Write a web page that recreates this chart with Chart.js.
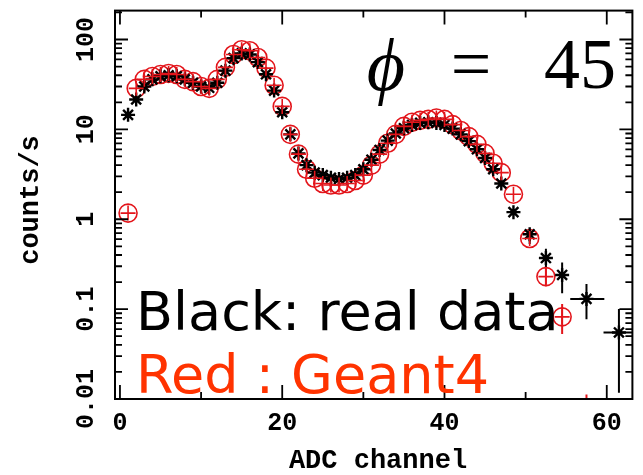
<!DOCTYPE html>
<html>
<head>
<meta charset="utf-8">
<script src="https://cdn.jsdelivr.net/npm/chart.js@4.4.1/dist/chart.umd.min.js"></script>
<style>
  html, body { margin: 0; padding: 0; background: #fff; }
</style>
</head>
<body>
<canvas id="spec" width="643" height="475"></canvas>
<script>
// ADC channel of each point (last ones are wider bins)
const channels = [1, 2, 3, 4, 5, 6, 7, 8, 9, 10, 11, 12, 13, 14, 15, 16, 17, 18, 19, 20,
  21, 22, 23, 24, 25, 26, 27, 28, 29, 30, 31, 32, 33, 34, 35, 36, 37, 38, 39, 40,
  41, 42, 43, 44, 45, 46, 47, 48.5, 50.5, 52.5, 54.5, 57.5, 61.5];

// counts/s, black = real data
const realRate = [14.5, 21.5, 30, 36, 39, 40, 39, 36, 33, 30, 29, 33, 45, 62, 70, 68, 56, 41, 27, 15.5,
  8.8, 5.4, 4.0, 3.3, 3.1, 2.9, 2.8, 2.9, 3.1, 3.6, 4.6, 5.9, 7.5, 9.0, 10.3, 11.2, 11.8, 12.0, 11.8, 11.2,
  10.2, 8.8, 7.4, 6.0, 4.8, 3.6, 2.5, 1.2, 0.68, 0.37, 0.24, 0.13, 0.055];

// counts/s, red = Geant4
const geantRate = [1.17, 28.6, 36, 38.8, 40.8, 41.9, 40.8, 36, 34, 30, 28.6, 36, 49, 68, 77, 75, 63, 48, 31, 18,
  8.8, 5.3, 3.6, 2.86, 2.5, 2.4, 2.4, 2.5, 2.7, 3.1, 4.0, 5.3, 7.0, 8.8, 10.8, 12.0, 12.6, 12.9, 13.4, 12.9,
  11.3, 9.7, 8.3, 6.8, 5.4, 4.2, 3.3, 1.9, 0.61, 0.23, 0.082, null, null];

// error bars that stick out of the markers
const realBarX     = [50.5, 52.5, 54.5, 57.5, 61.5];
const realBarLow   = [0.53, 0.29, 0.15, 0.077, 0.0117];
const realBarHigh  = [0.78, 0.47, 0.33, 0.19, 0.10];
const realBarXLow  = [null, null, null, 55.5, 59.6];
const realBarXHigh = [null, null, null, 59.7, 63.4];

const geantBarX    = [52.5, 54.5, 57.5];
const geantBarLow  = [0.18, 0.053, 0.001];
const geantBarHigh = [0.30, 0.114, 0.0112];

// axes
const xTickVals   = [0, 10, 20, 30, 40, 50, 60];
const xTickLabels = ['0', '20', '40', '60'];
const yTickLabels = ['0.01', '0.1', '1', '10', '100'];

const RED = '#e3151b';

const points = (ys) => channels.map((c, i) => ({ x: c, y: ys[i] }));

// ==============================
// frame, inward ticks, labels
// ==============================
const frameTicks = {
  id: 'frameTicks',
  beforeDatasetsDraw(chart) {
    const { ctx, chartArea: a, scales: { x, y } } = chart;
    ctx.save();
    ctx.beginPath();
    ctx.rect(a.left, a.top, a.right - a.left, a.bottom - a.top);
    ctx.clip();
    ctx.lineWidth = 2;
    const bars = (xs, lo, hi, xlo, xhi, color) => {
      ctx.strokeStyle = color;
      ctx.beginPath();
      xs.forEach((cx, i) => {
        const px = x.getPixelForValue(cx);
        ctx.moveTo(px, y.getPixelForValue(lo[i]));
        ctx.lineTo(px, y.getPixelForValue(hi[i]));
        if (xlo && xlo[i] != null) {
          const py = y.getPixelForValue(realRate[channels.indexOf(cx)]);
          ctx.moveTo(x.getPixelForValue(xlo[i]), py);
          ctx.lineTo(x.getPixelForValue(xhi[i]), py);
        }
      });
      ctx.stroke();
    };
    bars(geantBarX, geantBarLow, geantBarHigh, null, null, RED);
    bars(realBarX, realBarLow, realBarHigh, realBarXLow, realBarXHigh, '#000');
    ctx.restore();
  },
  afterDatasetsDraw(chart) {
    const { ctx, chartArea: a, scales: { x, y } } = chart;
    ctx.save();
    ctx.strokeStyle = '#000';
    ctx.lineWidth = 2;
    ctx.strokeRect(a.left, a.top, a.right - a.left, a.bottom - a.top);

    ctx.lineWidth = 1.8;
    ctx.beginPath();
    xTickVals.forEach(v => {
      const px = x.getPixelForValue(v);
      const len = xTickLabels.includes(String(v)) ? 14 : 7;
      ctx.moveTo(px, a.bottom); ctx.lineTo(px, a.bottom - len);
      ctx.moveTo(px, a.top); ctx.lineTo(px, a.top + len);
    });
    yTickLabels.forEach(lab => {
      const dec = parseFloat(lab);
      for (let m = 1; m <= 9; m++) {
        const v = dec * m;
        if (v > y.max) break;
        const py = y.getPixelForValue(v);
        const len = m === 1 ? 13 : 7;
        ctx.moveTo(a.left, py); ctx.lineTo(a.left + len, py);
        ctx.moveTo(a.right, py); ctx.lineTo(a.right - len, py);
      }
    });
    ctx.stroke();

    // tick labels
    ctx.fillStyle = '#000';
    ctx.font = 'bold 25px "Liberation Mono", monospace';
    ctx.textAlign = 'center';
    ctx.textBaseline = 'middle';
    xTickLabels.forEach(lab => {
      ctx.fillText(lab, x.getPixelForValue(parseFloat(lab)), 424);
    });
    yTickLabels.forEach(lab => {
      ctx.save();
      ctx.translate(87, y.getPixelForValue(parseFloat(lab)));
      ctx.rotate(-Math.PI / 2);
      ctx.fillText(lab, 0, 0);
      ctx.restore();
    });

    // axis titles
    ctx.font = 'bold 27px "Liberation Mono", monospace';
    ctx.fillText('ADC channel', 378, 461);
    ctx.save();
    ctx.translate(31, 200);
    ctx.rotate(-Math.PI / 2);
    ctx.fillText('counts/s', 0, 0);
    ctx.restore();

    // annotations
    ctx.textBaseline = 'alphabetic';
    ctx.font = 'italic 74px "Liberation Serif", "DejaVu Serif", serif';
    ctx.fillText('\u03D5', 386, 90);
    ctx.font = '72px "Liberation Serif", "DejaVu Serif", serif';
    ctx.fillText('=', 471, 88);
    ctx.textAlign = 'right';
    ctx.fillText('45', 616, 88);

    ctx.textAlign = 'left';
    ctx.font = '54px "DejaVu Sans", sans-serif';
    ctx.fillText('Black: real data', 136, 330);
    ctx.fillStyle = '#ff3300';
    ctx.fillText('Red : Geant4', 136, 393);
    ctx.restore();
  }
};

new Chart(document.getElementById('spec'), {
  type: 'scatter',
  data: {
    datasets: [
      {
        label: 'Geant4',
        data: points(geantRate),
        pointStyle: 'circle',
        pointRadius: 9,
        pointBorderWidth: 1.6,
        borderColor: RED,
        backgroundColor: 'rgba(0,0,0,0)',
        order: 3
      },
      {
        label: 'real data',
        data: points(realRate),
        pointStyle: 'star',
        pointRadius: 7,
        pointBorderWidth: 2.4,
        borderColor: '#000',
        backgroundColor: '#000',
        order: 2
      },
      {
        label: 'Geant4 cross',
        data: points(geantRate),
        pointStyle: 'cross',
        pointRadius: 7.5,
        pointBorderWidth: 1.6,
        borderColor: RED,
        backgroundColor: RED,
        order: 1
      }
    ]
  },
  options: {
    responsive: false,
    animation: false,
    events: [],
    layout: { padding: { top: 9, right: 3, left: 0, bottom: 0 } },
    plugins: { legend: { display: false }, tooltip: { enabled: false } },
    scales: {
      x: {
        type: 'linear', min: -0.61, max: 63.16,
        ticks: { display: false }, grid: { display: false }, border: { display: false },
        afterFit: s => { s.height = 76; }
      },
      y: {
        type: 'logarithmic', min: 0.01, max: 209.6,
        ticks: { display: false }, grid: { display: false }, border: { display: false },
        afterFit: s => { s.width = 115; }
      }
    }
  },
  plugins: [frameTicks]
});
</script>
</body>
</html>
